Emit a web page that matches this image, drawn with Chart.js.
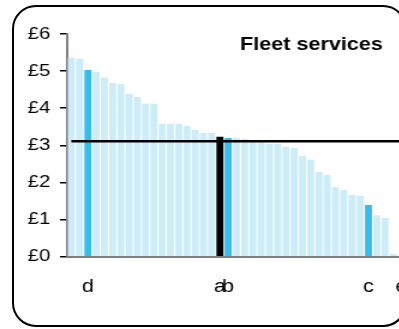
<!DOCTYPE html>
<html>
<head>
<meta charset="utf-8">
<script src="https://cdn.jsdelivr.net/npm/chart.js@4/dist/chart.umd.min.js"></script>
<style>
  html, body { margin: 0; padding: 0; background: #fff; overflow: hidden; }
  #page { position: relative; width: 399px; height: 329px; overflow: hidden; }
  #frame { position: absolute; left: 12px; top: 5px; width: 395px; height: 322px; box-sizing: border-box;
           border: 2px solid #000; border-left-width: 2.5px; border-radius: 24px; }
  #wrap { position: absolute; left: 0; top: 0; width: 345px; height: 329px; transform: scaleX(1.2); transform-origin: 0 0; }
</style>
</head>
<body>
<div id="page">
  <div id="frame"></div>
  <div id="wrap"><canvas id="costChart" width="345" height="329"></canvas></div>
</div>
<script>
'use strict';

// one label per unit, only the marked ones are named
const categories = ['', '', 'd', '', '', '', '', '', '', '', '',
    '', '', '', '', '', '', '', 'a', 'b', '',
    '', '', '', '', '', '', '', '', '', '',
    '', '', '', '', '', 'c', '', '', '', 'e'];

// cost per unit, £
const costs = [5.36, 5.33, 5.03, 4.98, 4.82, 4.68, 4.65, 4.39, 4.30, 4.12,
    4.12, 3.58, 3.58, 3.58, 3.52, 3.42, 3.33, 3.33, 3.23, 3.20,
    3.20, 3.17, 3.13, 3.08, 3.04, 3.04, 2.96, 2.93, 2.71, 2.61,
    2.28, 2.20, 1.88, 1.80, 1.66, 1.64, 1.39, 1.12, 1.04, 0.07,
    0];

const averageCost = 3.11;
const yTicks = [0, 1, 2, 3, 4, 5, 6];

const highlighted = ['b', 'c', 'd'];
const selected = 'a';

const barColours = categories.map(c => {
    if (c === selected) return '#000000';
    if (highlighted.includes(c)) return '#38bcea';
    return '#ccecf8';
});

const titlePlugin = {
    id: 'cornerTitle',
    afterDraw(chart) {
        const ctx = chart.ctx;
        ctx.save();
        ctx.font = 'bold 18px "Liberation Sans", Arial, sans-serif';
        ctx.fillStyle = '#000';
        ctx.textAlign = 'right';
        ctx.textBaseline = 'alphabetic';
        ctx.fillText('Fleet services', 319, 49.5);
        ctx.restore();
    }
};

let costChart = document.querySelector('#costChart');
new Chart(costChart, {
    data: {
        labels: categories,
        datasets: [
            {
                type: 'line',
                data: categories.map(() => averageCost),
                borderColor: '#000',
                borderWidth: 2.5,
                pointRadius: 0,
                order: 0
            },
            {
                type: 'bar',
                data: costs,
                backgroundColor: barColours,
                borderWidth: 0,
                barPercentage: 0.85,
                categoryPercentage: 1,
                order: 1
            }
        ]
    },
    options: {
        responsive: false,
        animation: false,
        layout: { padding: { top: 34, right: 7, left: 0, bottom: 0 } },
        plugins: { legend: { display: false }, tooltip: { enabled: false } },
        scales: {
            x: {
                offset: true,
                grid: { display: false, drawTicks: true, tickLength: 20 },
                border: { display: true, color: '#7f7f7f', width: 2 },
                ticks: {
                    autoSkip: false,
                    maxRotation: 0,
                    minRotation: 0,
                    padding: 0,
                    color: '#000',
                    font: { family: '"Liberation Sans", Arial, sans-serif', size: 18 }
                },
                afterFit(scale) { scale.height = 72.3; }
            },
            y: {
                min: 0,
                max: 6,
                afterBuildTicks(scale) { scale.ticks = yTicks.map(v => ({ value: v })); },
                grid: { drawOnChartArea: false, drawTicks: true, tickLength: 6, color: '#000', lineWidth: 1.5 },
                border: { display: true, color: '#7f7f7f', width: 2 },
                ticks: {
                    padding: 8,
                    color: '#000',
                    font: { family: '"Liberation Sans", Arial, sans-serif', size: 17 },
                    callback: v => '£' + v
                },
                afterFit(scale) { scale.width = 56; }
            }
        }
    },
    plugins: [titlePlugin]
});
</script>
</body>
</html>
